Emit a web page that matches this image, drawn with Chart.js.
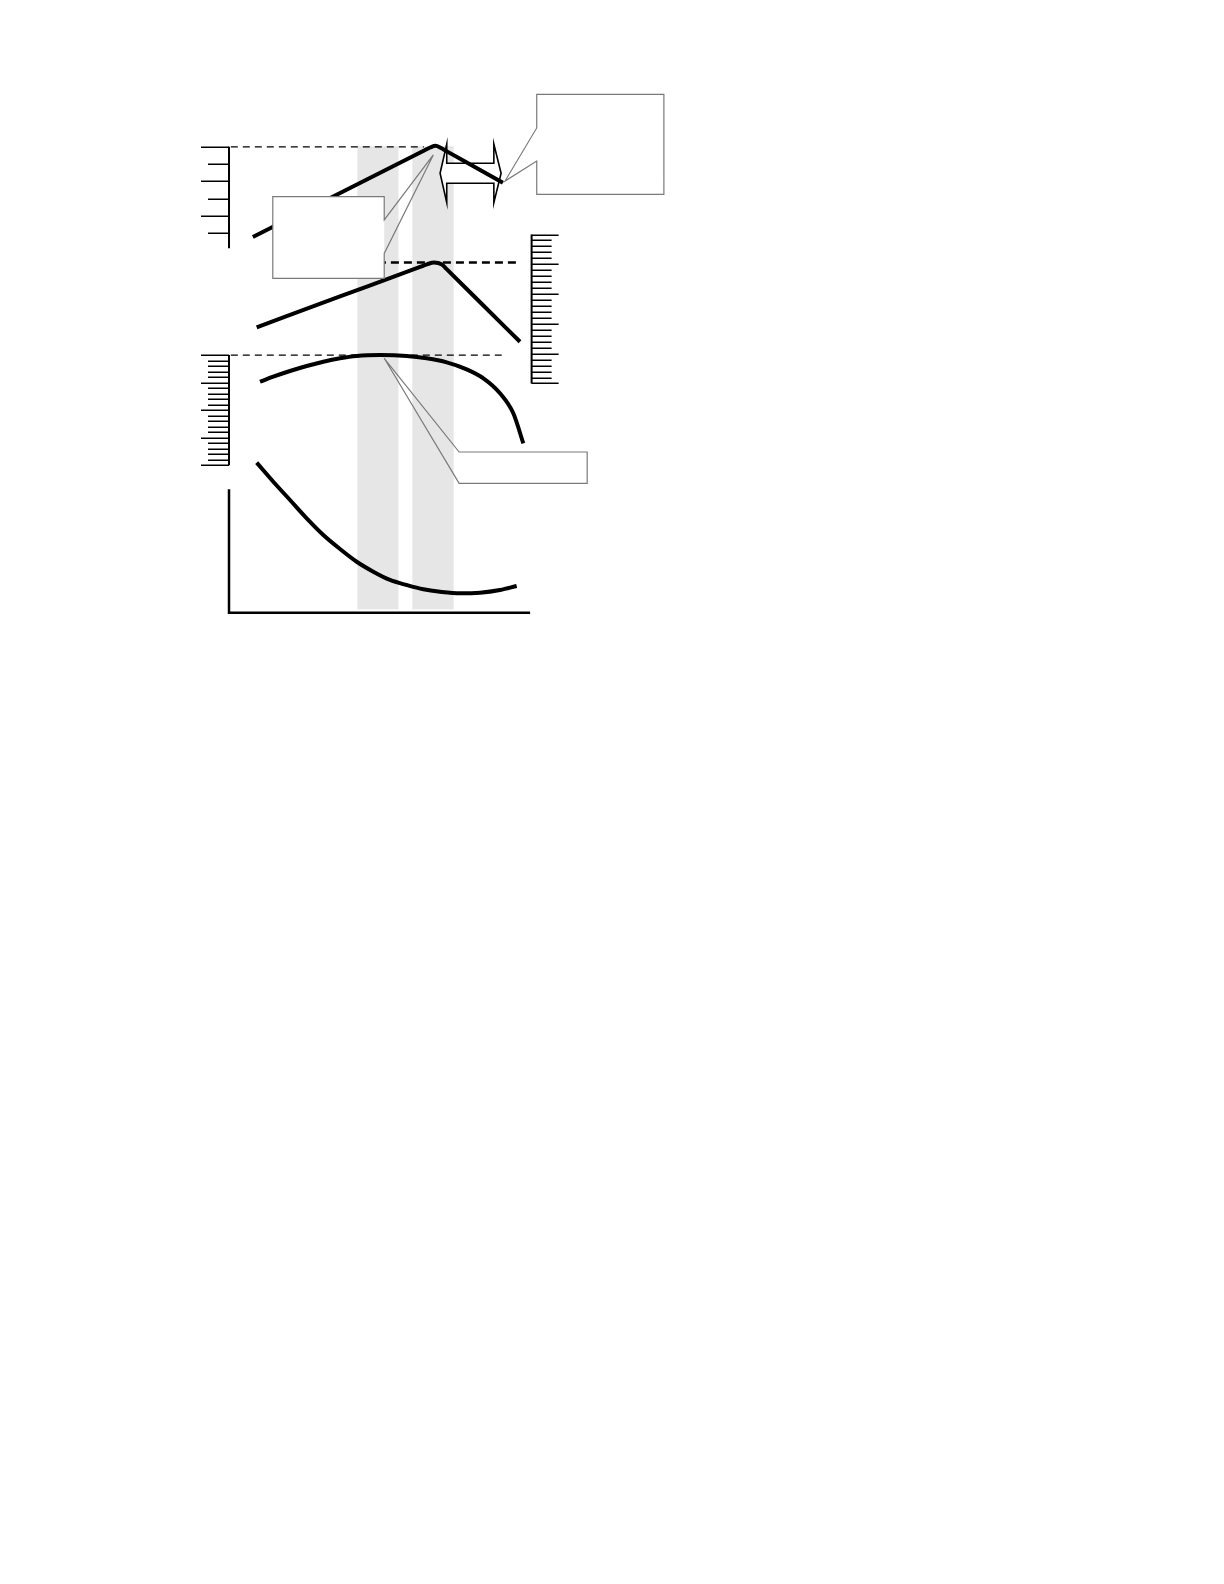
<!DOCTYPE html>
<html>
<head>
<meta charset="utf-8">
<script src="https://cdn.jsdelivr.net/npm/chart.js@4.4.1/dist/chart.umd.min.js"></script>
<style>
  html, body { margin: 0; padding: 0; background: #fff; }
  #fig { display: block; }
</style>
</head>
<body>
<canvas id="fig" width="1224" height="1584"></canvas>
<script>
// common horizontal axis runs 0..100, each curve has its own vertical scale
var curveAX = [7.9, 36.8, 64.8, 66.6, 68.4, 70.2, 72.0, 80.5, 90.7];
var curveAY = [0.79, 3.33, 5.8, 5.96, 6.06, 5.93, 5.75, 4.92, 3.92];

var curveBX = [9.17, 36.75, 63.5, 65.56, 67.9, 70.5, 72.0, 83.4, 96.36];
var curveBY = [9.43, 14.6, 19.61, 20.0, 20.3, 19.97, 19.23, 13.5, 7.01];

var curveCX = [10.26, 14.67, 20.2, 25.73, 31.23, 36.75, 42.28, 50.0, 58.84, 65.46, 72.09, 78.71, 84.24, 89.74, 94.14, 97.45];
var curveCY = [15.17, 16.08, 17.11, 18.02, 18.8, 19.42, 19.84, 20.0, 19.84, 19.42, 18.69, 17.42, 15.79, 13.07, 9.44, 3.99];

var curveDX = [9.17, 14.67, 20.2, 25.73, 31.23, 36.75, 42.28, 47.78, 53.31, 58.84, 64.34, 69.87, 76.49, 83.11, 89.74, 95.26];
var curveDY = [12.1, 10.56, 9.09, 7.61, 6.27, 5.14, 4.11, 3.31, 2.64, 2.23, 1.89, 1.69, 1.56, 1.61, 1.83, 2.15];

// ruler ticks
var rulerATicks = [1, 2, 3, 4, 5, 6];
var rulerBTicks = [0, 1, 2, 3, 4, 5, 6, 7, 8, 9, 10, 11, 12, 13, 14, 15, 16, 17, 18, 19, 20, 21, 22, 23, 24, 25];
var rulerCTicks = [0, 1, 2, 3, 4, 5, 6, 7, 8, 9, 10, 11, 12, 13, 14, 15, 16, 17, 18, 19, 20];

// reference levels (peaks)
var peakA = 6.0;
var peakB = 20.3;
var peakC = 20.0;

// shaded x windows
var bandStart = [42.5, 60.7];
var bandEnd   = [56.1, 74.4];

function pairs(xs, ys) {
  var out = [];
  for (var i = 0; i < xs.length; i++) out.push({ x: xs[i], y: ys[i] });
  return out;
}

var chartTop = 90, chartBottom = 613;
function fitAxis(zeroPx, pxPerUnit) {
  return {
    type: "linear",
    display: false,
    min: (zeroPx - chartBottom) / pxPerUnit,
    max: (zeroPx - chartTop) / pxPerUnit
  };
}

function curve(xs, ys, axis) {
  return {
    data: pairs(xs, ys),
    yAxisID: axis,
    borderColor: "#000",
    borderWidth: 4,
    pointRadius: 0,
    fill: false,
    cubicInterpolationMode: "monotone",
    borderCapStyle: "butt"
  };
}

function line(ctx, pts) {
  ctx.beginPath();
  ctx.moveTo(pts[0][0], pts[0][1]);
  for (var i = 1; i < pts.length; i++) ctx.lineTo(pts[i][0], pts[i][1]);
}

var figurePlugin = {
  id: "figure",
  beforeDatasetsDraw: function(chart) {
    var ctx = chart.ctx, sx = chart.scales.x;
    var yA = chart.scales.yA, yB = chart.scales.yB, yC = chart.scales.yC, yD = chart.scales.yD;
    ctx.save();

    // gray windows
    ctx.fillStyle = "#e6e6e6";
    for (var i = 0; i < bandStart.length; i++) {
      var x1 = sx.getPixelForValue(bandStart[i]), x2 = sx.getPixelForValue(bandEnd[i]);
      var t = yA.getPixelForValue(6.03), b = yD.getPixelForValue(0.27);
      ctx.fillRect(x1, t, x2 - x1, b - t);
    }

    // rulers
    ctx.strokeStyle = "#000";
    function ruler(axis, at, from, to, ticks, isMajor, dir, major, minor) {
      var s = chart.scales[axis], x0 = sx.getPixelForValue(at);
      ctx.lineWidth = 2;
      line(ctx, [[x0, s.getPixelForValue(from)], [x0, s.getPixelForValue(to)]]);
      ctx.stroke();
      ctx.lineWidth = 1.5;
      ticks.forEach(function(v) {
        var y = Math.round(s.getPixelForValue(v)) + 0.25;
        var len = isMajor(v) ? major : minor;
        line(ctx, [[x0, y], [x0 + dir * len, y]]);
        ctx.stroke();
      });
    }
    ruler("yA", 0, 0.13, 6, rulerATicks, function(v) { return v % 2 === 0; }, -1, 28, 21);
    ruler("yB", 100.2, 0, 25, rulerBTicks, function(v) { return v % 5 === 0; }, 1, 27, 20);
    ruler("yC", 0, 0, 20, rulerCTicks, function(v) { return v % 5 === 0; }, -1, 28, 21);

    // bottom L-axis
    ctx.lineWidth = 2.5;
    line(ctx, [[sx.getPixelForValue(0), yD.getPixelForValue(9.95)],
               [sx.getPixelForValue(0), yD.getPixelForValue(0)],
               [sx.getPixelForValue(99.7), yD.getPixelForValue(0)]]);
    ctx.stroke();

    // dashed peak levels
    function dashed(s, v, u1, u2, w, dash) {
      ctx.lineWidth = w;
      ctx.setLineDash(dash);
      var y = s.getPixelForValue(v);
      line(ctx, [[sx.getPixelForValue(u1), y], [sx.getPixelForValue(u2), y]]);
      ctx.stroke();
    }
    dashed(yA, peakA, 0.6, 64.5, 1.3, [7, 5]);
    dashed(yB, peakB, 45, 95.7, 2.7, [8, 5]);
    dashed(yC, peakC, 0.6, 90.3, 1.3, [7, 5]);
    ctx.setLineDash([]);

    // hollow double arrow
    var arrow = [[69.9, 4.47], [72.1, 6.16], [72.1, 5.05], [87.7, 5.05], [87.7, 6.16],
                 [90.1, 4.47], [87.7, 2.77], [87.7, 3.89], [72.1, 3.89], [72.1, 2.77]];
    line(ctx, arrow.map(function(p) { return [sx.getPixelForValue(p[0]), yA.getPixelForValue(p[1])]; }));
    ctx.closePath();
    ctx.fillStyle = "#fff";
    ctx.fill();
    ctx.lineWidth = 1.6;
    ctx.lineJoin = "miter";
    ctx.stroke();

    ctx.restore();
  },
  afterDatasetsDraw: function(chart) {
    var ctx = chart.ctx, sx = chart.scales.x;
    function P(s, u, v) { return [sx.getPixelForValue(u), chart.scales[s].getPixelForValue(v)]; }
    ctx.save();
    ctx.strokeStyle = "#7a7a7a";
    ctx.lineWidth = 1.2;
    ctx.fillStyle = "#fff";

    function callout(rect, outline) {
      ctx.fillRect(rect[0][0], rect[0][1], rect[1][0] - rect[0][0], rect[1][1] - rect[0][1]);
      line(ctx, outline);
      ctx.closePath();
      ctx.stroke();
    }

    // upper right note
    var a1 = P("yA", 101.9, 9.03), a2 = P("yA", 144.0, 3.25);
    callout([a1, a2], [a1, [a2[0], a1[1]], a2, [a1[0], a2[1]],
      P("yA", 101.9, 5.18), P("yA", 91.4, 4.02), P("yA", 101.9, 7.09)]);

    // left note over the first curve
    var b1 = P("yA", 14.5, 3.12), b2 = P("yA", 51.4, -1.6);
    callout([b1, b2], [b1, [b2[0], b1[1]], P("yA", 51.4, 1.77), P("yA", 67.65, 5.53),
      P("yA", 51.4, -0.16), b2, [b1[0], b2[1]]]);

    // note at the arc top
    var c1 = P("yC", 76.2, 2.41), c2 = P("yC", 118.6, -3.27);
    callout([c1, c2], [P("yC", 51.4, 19.42), c1, [c2[0], c1[1]], c2, [c1[0], c2[1]]]);

    ctx.restore();
  }
};

new Chart(document.getElementById("fig"), {
  type: "scatter",
  data: {
    datasets: [
      curve(curveAX, curveAY, "yA"),
      curve(curveBX, curveBY, "yB"),
      curve(curveCX, curveCY, "yC"),
      curve(curveDX, curveDY, "yD")
    ]
  },
  options: {
    responsive: false,
    animation: false,
    showLine: true,
    layout: { padding: { left: 229, right: 693, top: chartTop, bottom: 1584 - chartBottom } },
    plugins: { legend: { display: false }, tooltip: { enabled: false } },
    scales: {
      x: { type: "linear", display: false, min: 0, max: 100 },
      yA: fitAxis(250.6, 17.3),
      yB: fitAxis(383.5, 5.96),
      yC: fitAxis(465.3, 5.51),
      yD: fitAxis(612.7, 12.4)
    }
  },
  plugins: [figurePlugin]
});
</script>
</body>
</html>
